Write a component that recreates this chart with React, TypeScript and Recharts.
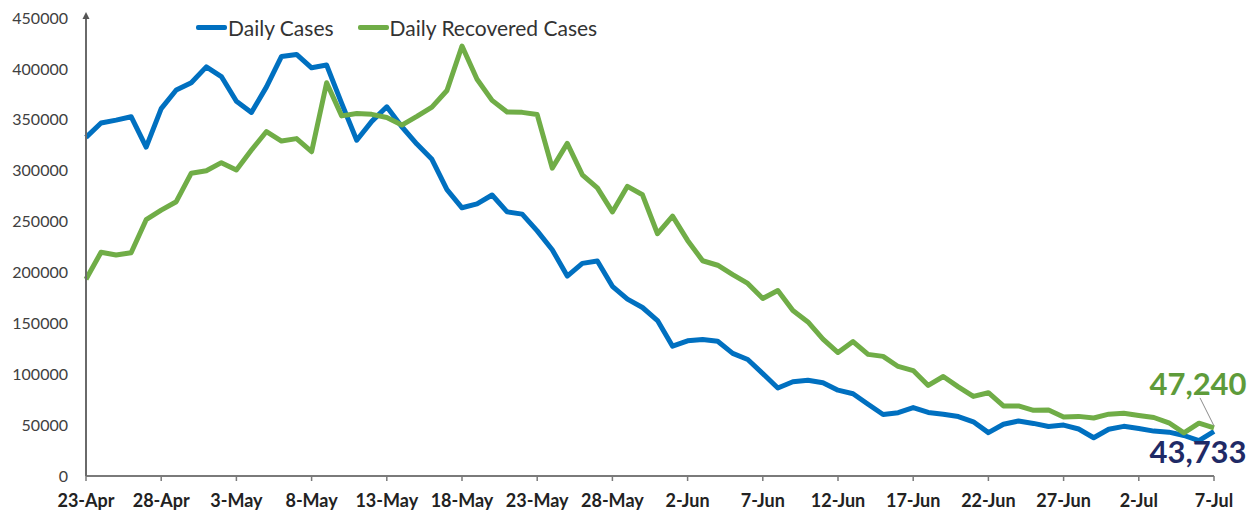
import { Line, LineChart, XAxis, YAxis } from "recharts";

const dates = [
  "23-Apr", "24-Apr", "25-Apr", "26-Apr", "27-Apr", "28-Apr", "29-Apr", "30-Apr",
  "1-May", "2-May", "3-May", "4-May", "5-May", "6-May", "7-May", "8-May", "9-May", "10-May",
  "11-May", "12-May", "13-May", "14-May", "15-May", "16-May", "17-May", "18-May", "19-May", "20-May",
  "21-May", "22-May", "23-May", "24-May", "25-May", "26-May", "27-May", "28-May", "29-May", "30-May", "31-May",
  "1-Jun", "2-Jun", "3-Jun", "4-Jun", "5-Jun", "6-Jun", "7-Jun", "8-Jun", "9-Jun", "10-Jun",
  "11-Jun", "12-Jun", "13-Jun", "14-Jun", "15-Jun", "16-Jun", "17-Jun", "18-Jun", "19-Jun", "20-Jun",
  "21-Jun", "22-Jun", "23-Jun", "24-Jun", "25-Jun", "26-Jun", "27-Jun", "28-Jun", "29-Jun", "30-Jun",
  "1-Jul", "2-Jul", "3-Jul", "4-Jul", "5-Jul", "6-Jul", "7-Jul",
];

const dailyCases = [
  332730, 346786, 349691, 352991, 323144, 360960, 379257, 386452,
  401993, 392488, 368147, 357229, 382315, 412262, 414188, 401078, 403738, 366161,
  329942, 348421, 362727, 343144, 326098, 311170, 281386, 263533, 267334, 276110,
  259551, 257299, 240842, 222315, 196427, 208921, 211298, 186364, 173790, 165553, 152734,
  127510, 132788, 134154, 132364, 120529, 114460, 100636, 86498, 92596, 94052,
  91702, 84332, 80834, 70421, 60471, 62224, 67208, 62480, 60753, 58419,
  53256, 42640, 50848, 54069, 51667, 48698, 50040, 46148, 37566, 45951,
  48786, 46617, 44111, 43071, 39796, 34703, 43733,
];

const dailyRecovered = [
  193279, 219838, 217113, 219272, 251827, 261162, 269507, 297540,
  299988, 307865, 300732, 320289, 338439, 329113, 331507, 318609, 386444, 353818,
  356082, 355338, 352181, 344776, 353299, 362437, 378741, 422436, 389851, 369077,
  357630, 357295, 355102, 302544, 326850, 295955, 283135, 259459, 284601, 276309, 238022,
  255287, 231456, 211499, 207071, 197894, 189232, 174399, 182282, 162664, 151367,
  134580, 121311, 132062, 119501, 117525, 107628, 103570, 88977, 97743, 87619,
  78190, 81839, 68817, 68885, 64527, 64818, 57944, 58578, 56994, 60729,
  61588, 59384, 57477, 52299, 42352, 51864, 47240,
];

const yTicks = [0, 50000, 100000, 150000, 200000, 250000, 300000, 350000, 400000, 450000];

const chartData = dates.map((d, i) => ({
  date: d,
  cases: dailyCases[i],
  recovered: dailyRecovered[i],
}));

const BLUE = "#0070C0";
const GREEN = "#70AD47";
const last = dates.length - 1;

function GreenEndLabel(props: any) {
  const { x, y, index } = props;
  if (index !== last) return null;
  return (
    <g>
      <line x1={x - 14} y1={y - 30} x2={x} y2={y - 2} stroke="#8c8c8c" strokeWidth={1} />
      <text x={x - 16} y={y - 33} textAnchor="middle" fontSize={31} fontWeight={700} fill="#5E9B3A">
        {dailyRecovered[last].toLocaleString("en-US")}
      </text>
    </g>
  );
}

function BlueEndLabel(props: any) {
  const { x, y, index } = props;
  if (index !== last) return null;
  return (
    <text x={x - 16} y={y + 32} textAnchor="middle" fontSize={31} fontWeight={700} fill="#1F2A66">
      {dailyCases[last].toLocaleString("en-US")}
    </text>
  );
}

function AxisArrow(props: any) {
  const vb = props.viewBox;
  if (!vb) return null;
  const ax = vb.x + vb.width;
  const ay = vb.y;
  return <polygon points={`${ax - 3.5},${ay + 1} ${ax + 3.5},${ay + 1} ${ax},${ay - 6}`} fill="#555" />;
}

function TopLegend() {
  const item = (color: string, text: string, gap: number) => (
    <span style={{ display: "inline-flex", alignItems: "center", marginRight: gap }}>
      <span style={{ display: "inline-block", width: 31, height: 5, background: color, borderRadius: 2 }} />
      <span style={{ marginLeft: 1, color: "#333", fontSize: 21 }}>{text}</span>
    </span>
  );
  return (
    <div
      style={{
        position: "absolute",
        top: 15,
        left: 196,
        display: "flex",
        fontFamily: "Lato, sans-serif",
        lineHeight: "25px",
      }}
    >
      {item(BLUE, "Daily Cases", 24)}
      {item(GREEN, "Daily Recovered Cases", 0)}
    </div>
  );
}

export default function App() {
  return (
    <div
      style={{
        position: "absolute",
        left: 0,
        top: 0,
        width: 1260,
        height: 512,
        background: "#fff",
        fontFamily: "Lato, sans-serif",
      }}
    >
      <LineChart
        width={1260}
        height={512}
        data={chartData}
        margin={{ top: 18, right: 46, left: 0, bottom: 6 }}
      >
        <XAxis
          dataKey="date"
          interval={4}
          height={30}
          axisLine={{ stroke: "#7a7a7a", strokeWidth: 2 }}
          tickLine={{ stroke: "#7a7a7a", strokeWidth: 1.5 }}
          tickSize={5}
          tickMargin={13}
          tick={{ fill: "#222", fontSize: 18, fontWeight: 700 }}
        />
        <YAxis
          width={86}
          domain={[0, 450000]}
          ticks={yTicks}
          interval={0}
          axisLine={{ stroke: "#6a6a6a", strokeWidth: 2 }}
          tickLine={false}
          tickSize={0}
          tickMargin={18}
          tick={{ fill: "#404040", fontSize: 16 }}
          label={{ content: AxisArrow }}
        />
        <Line
          type="linear"
          dataKey="cases"
          name="Daily Cases"
          stroke={BLUE}
          strokeWidth={5}
          strokeLinejoin="round"
          dot={false}
          isAnimationActive={false}
          label={BlueEndLabel}
        />
        <Line
          type="linear"
          dataKey="recovered"
          name="Daily Recovered Cases"
          stroke={GREEN}
          strokeWidth={5}
          strokeLinejoin="round"
          dot={false}
          isAnimationActive={false}
          label={GreenEndLabel}
        />
      </LineChart>
      <TopLegend />
    </div>
  );
}
